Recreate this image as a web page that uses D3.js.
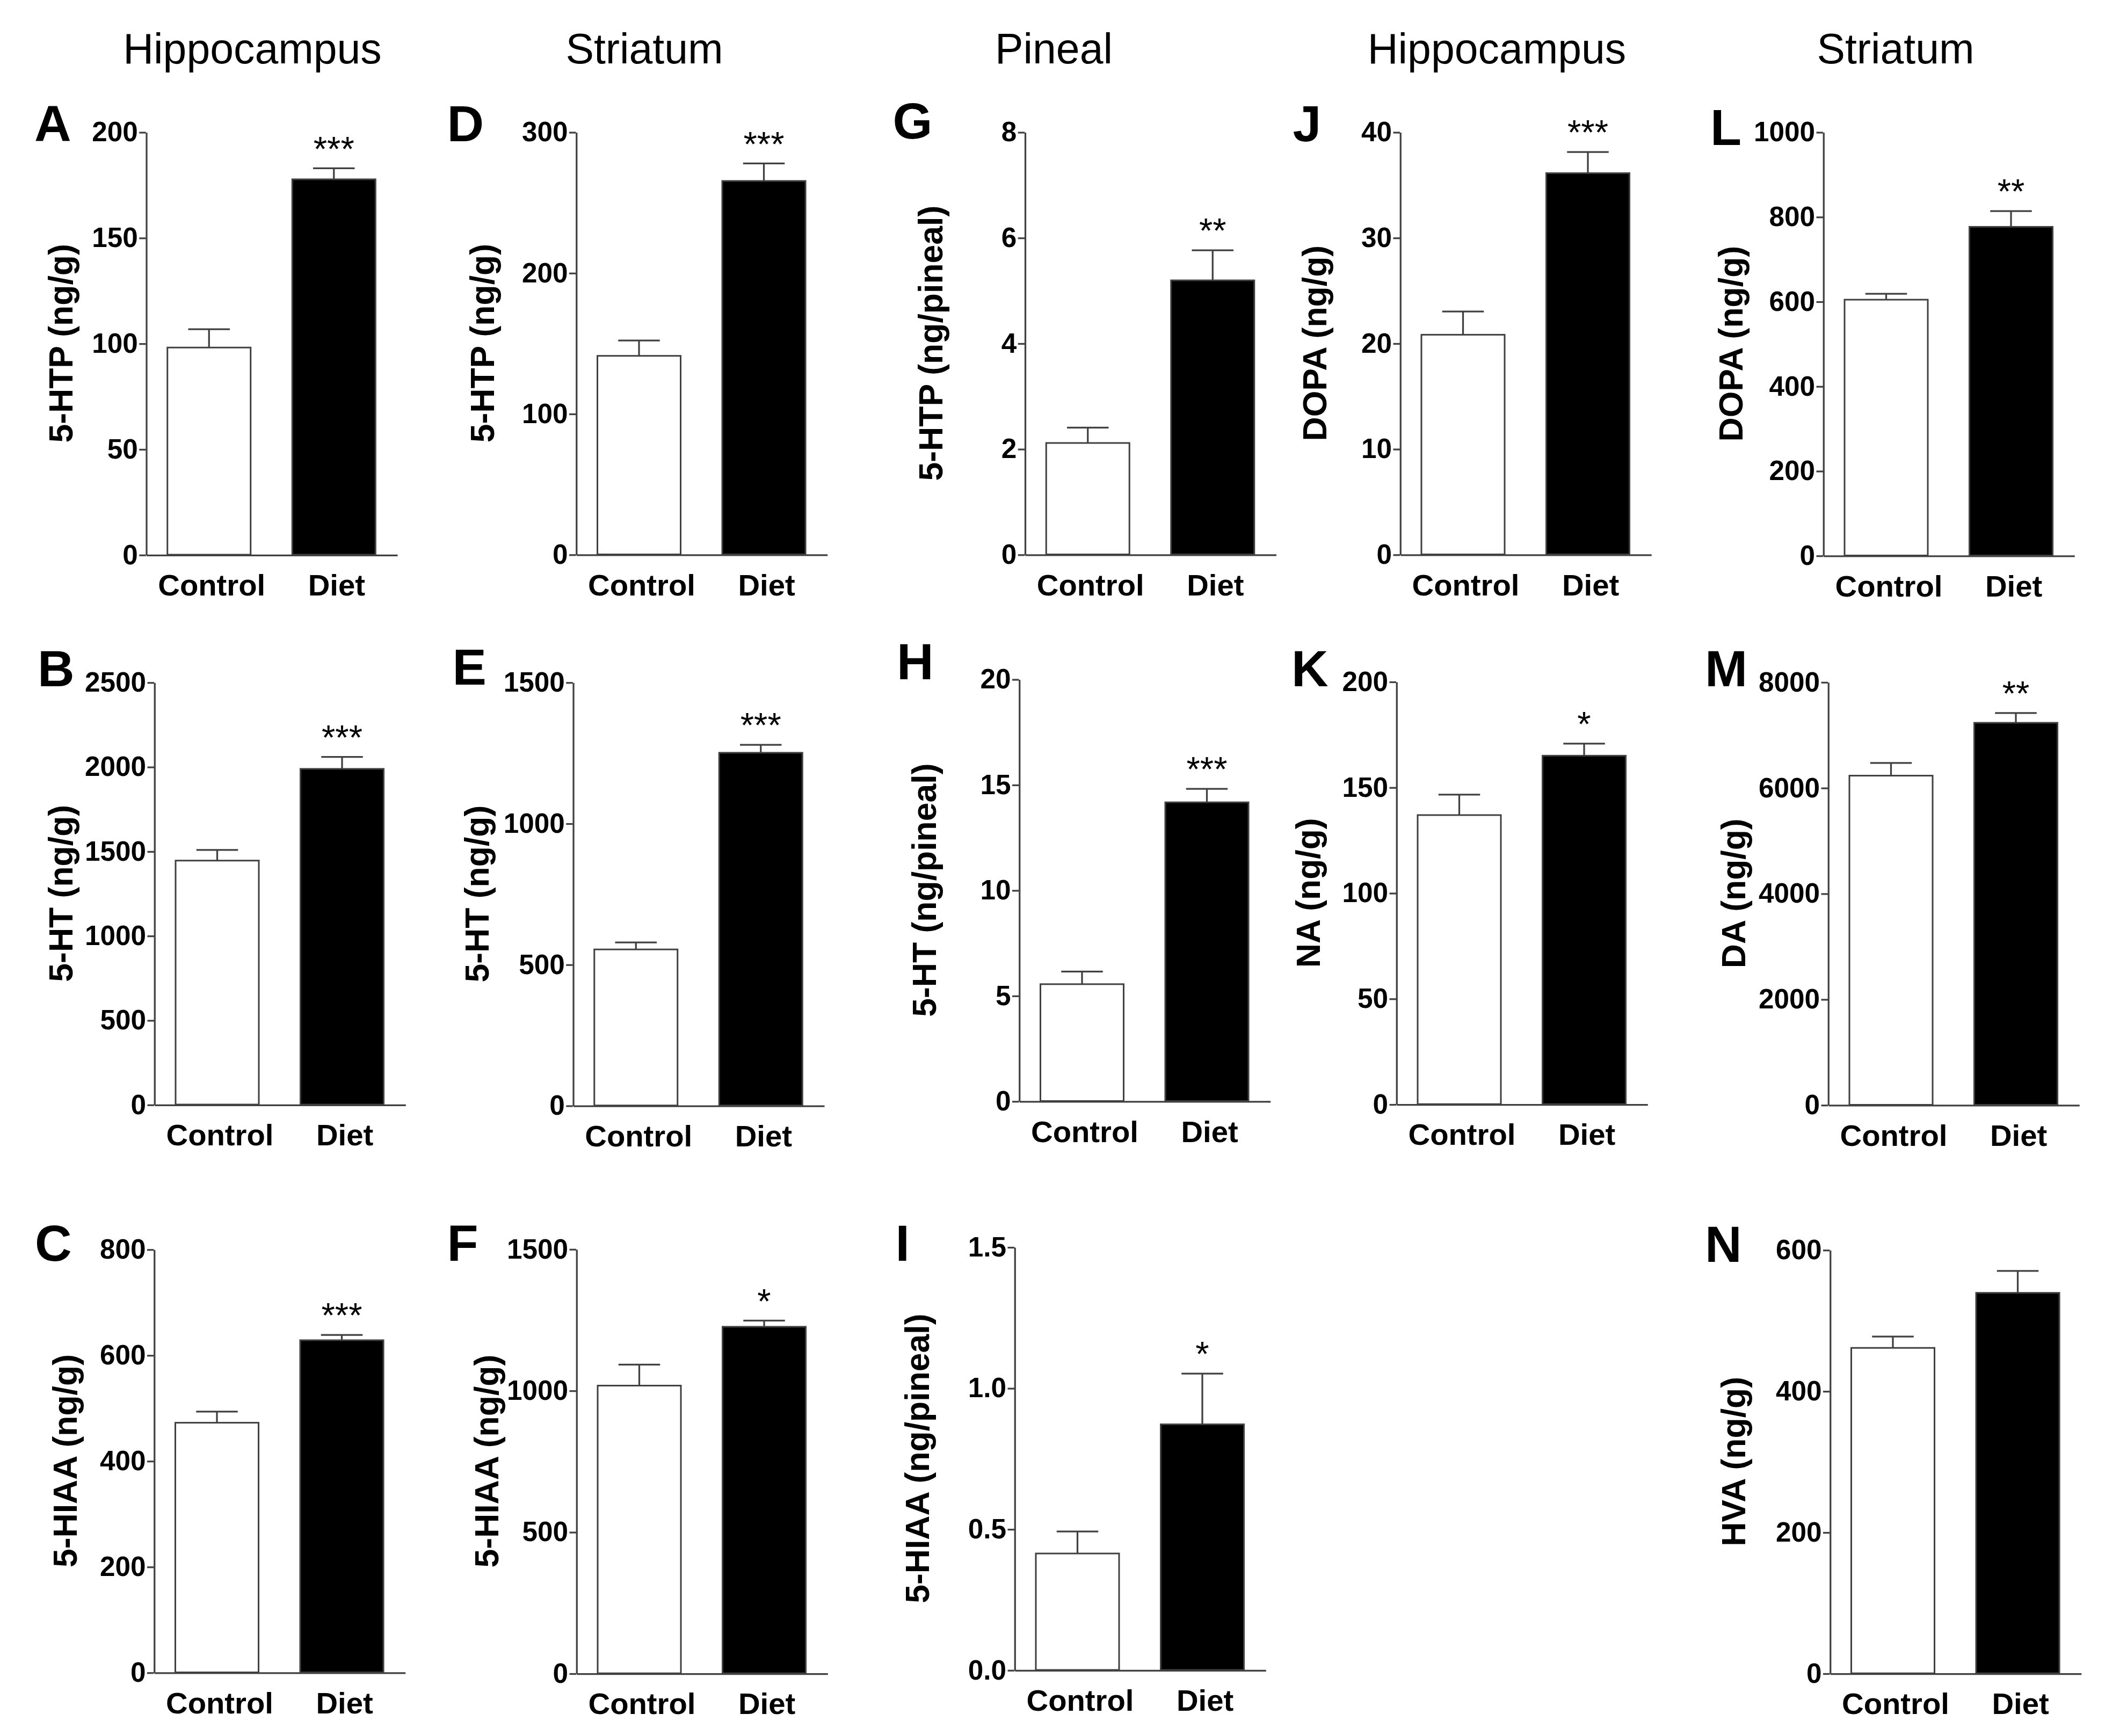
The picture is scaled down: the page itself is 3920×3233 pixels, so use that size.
<!DOCTYPE html>
<html>
<head>
<meta charset="utf-8">
<script src="https://cdn.jsdelivr.net/npm/d3@7"></script>
<style>
  html, body { margin: 0; padding: 0; background: #fff; }
  svg { display: block; }
  text { font-family: "Liberation Sans", Arial, Helvetica, sans-serif; }
</style>
</head>
<body>
<div id="figure"></div>
<script>
// ---- data ----
const groups = ["Control", "Diet"];
const columnTitles = ["Hippocampus", "Striatum", "Pineal", "Hippocampus", "Striatum"];
const panelLetters = ["A", "D", "G", "J", "L", "B", "E", "H", "K", "M", "C", "F", "I", "N"];
const yLabels = [
  "5-HTP (ng/g)", "5-HTP (ng/g)", "5-HTP (ng/pineal)", "DOPA (ng/g)", "DOPA (ng/g)",
  "5-HT (ng/g)", "5-HT (ng/g)", "5-HT (ng/pineal)", "NA (ng/g)", "DA (ng/g)",
  "5-HIAA (ng/g)", "5-HIAA (ng/g)", "5-HIAA (ng/pineal)", "HVA (ng/g)"
];
const yTicks = [
  [0, 50, 100, 150, 200], [0, 100, 200, 300], [0, 2, 4, 6, 8], [0, 10, 20, 30, 40], [0, 200, 400, 600, 800, 1000],
  [0, 500, 1000, 1500, 2000, 2500], [0, 500, 1000, 1500], [0, 5, 10, 15, 20], [0, 50, 100, 150, 200], [0, 2000, 4000, 6000, 8000],
  [0, 200, 400, 600, 800], [0, 500, 1000, 1500], [0, 0.5, 1.0, 1.5], [0, 200, 400, 600]
];
const controlMeans = [98, 141, 2.11, 20.8, 604, 1444, 553, 5.54, 136.8, 6227, 472, 1017, 0.413, 461];
const controlSems  = [8.7, 10.9, 0.29, 2.2, 14, 63, 25, 0.6, 9.7, 240, 21, 74, 0.078, 16];
const dietMeans    = [177.6, 265.2, 5.19, 36.1, 776, 1987, 1250, 14.16, 164.9, 7227, 628, 1225, 0.871, 539];
const dietSems     = [5.2, 12.4, 0.57, 2.0, 37, 71, 28, 0.64, 5.7, 186, 10, 22, 0.18, 31];
const significance = ["***", "***", "**", "***", "**", "***", "***", "***", "*", "**", "***", "*", "*", ""];

// ---- layout (drawing units, the page is scaled 2.5x) ----
const W = 1568, H = 1293.2;
const plotW = 187;
const titleX = [188, 480, 785, 1115, 1412];
const layout = {
  A: { x: 108.7, top: 98.3,  zero: 413.2, lx: 25.6, ly: 105, yl: 45 },
  D: { x: 429.0, top: 98.3,  zero: 413.0, lx: 333,  ly: 105, yl: 359 },
  G: { x: 763.3, top: 98.3,  zero: 413.0, lx: 665,  ly: 103, yl: 693 },
  J: { x: 1042.8, top: 98.3, zero: 413.0, lx: 963,  ly: 105, yl: 979 },
  L: { x: 1358.0, top: 98.3, zero: 413.8, lx: 1274, ly: 108, yl: 1289 },
  B: { x: 114.8, top: 508.2, zero: 822.8, lx: 28,   ly: 511, yl: 45 },
  E: { x: 426.7, top: 508.2, zero: 823.5, lx: 337,  ly: 510, yl: 355 },
  H: { x: 759.0, top: 505.9, zero: 820.2, lx: 668,  ly: 506, yl: 688 },
  K: { x: 1040.0, top: 507.7, zero: 822.5, lx: 962, ly: 511, yl: 974 },
  M: { x: 1361.6, top: 508.0, zero: 823.0, lx: 1270, ly: 511, yl: 1291 },
  C: { x: 114.6, top: 930.6, zero: 1245.8, lx: 26,  ly: 939, yl: 48 },
  F: { x: 429.2, top: 930.4, zero: 1246.5, lx: 333, ly: 939, yl: 362 },
  I: { x: 755.6, top: 928.9, zero: 1244.0, lx: 667, ly: 939, yl: 683 },
  N: { x: 1363.0, top: 931.0, zero: 1246.5, lx: 1270, ly: 940, yl: 1291 }
};
const axisColor = "#404040";

const svg = d3.select("#figure")
  .append("svg")
    .attr("width", 3920)
    .attr("height", 3233)
    .attr("viewBox", `0 0 ${W} ${H}`);

svg.append("rect").attr("width", W).attr("height", H).attr("fill", "#fff");

// column titles
svg.selectAll("text.coltitle")
  .data(columnTitles)
  .join("text")
    .attr("class", "coltitle")
    .attr("x", (d, i) => titleX[i])
    .attr("y", 47)
    .attr("text-anchor", "middle")
    .style("font-size", "31.5px")
    .text(d => d);

panelLetters.forEach((id, i) => {
  const p = layout[id];
  const h = p.zero - p.top;
  const ticks = yTicks[i];

  // panel letter
  svg.append("text")
    .attr("x", p.lx)
    .attr("y", p.ly)
    .style("font-size", "38px")
    .style("font-weight", "bold")
    .text(id);

  // y label
  svg.append("text")
    .attr("transform", `translate(${p.yl + 9},${(p.top + p.zero) / 2})rotate(-90)`)
    .attr("text-anchor", "middle")
    .style("font-size", "25px")
    .style("font-weight", "bold")
    .text(yLabels[i]);

  const g = svg.append("g")
    .attr("transform", `translate(${p.x},${p.top})`);

  const x = d3.scaleBand()
    .domain(groups)
    .range([0, plotW])
    .paddingInner(1 / 3)
    .paddingOuter(0.172);

  const y = d3.scaleLinear()
    .domain([0, d3.max(ticks)])
    .range([h, 0]);

  const fmt = ticks.some(t => t % 1 !== 0) ? d3.format(".1f") : d3.format("d");

  const rows = [
    { group: "Control", mean: controlMeans[i], sem: controlSems[i], fill: "#fff" },
    { group: "Diet", mean: dietMeans[i], sem: dietSems[i], fill: "#000" }
  ];

  // bars
  g.selectAll("rect.bar")
    .data(rows)
    .join("rect")
      .attr("class", "bar")
      .attr("x", d => x(d.group))
      .attr("y", d => y(d.mean))
      .attr("width", x.bandwidth())
      .attr("height", d => h - y(d.mean))
      .attr("fill", d => d.fill)
      .attr("stroke", axisColor)
      .attr("stroke-width", 1.2);

  // error bars (upper only)
  const cx = d => x(d.group) + x.bandwidth() / 2;
  g.selectAll("line.err")
    .data(rows)
    .join("line")
      .attr("class", "err")
      .attr("x1", cx).attr("x2", cx)
      .attr("y1", d => y(d.mean)).attr("y2", d => y(d.mean + d.sem))
      .attr("stroke", axisColor)
      .attr("stroke-width", 1.3);
  g.selectAll("line.cap")
    .data(rows)
    .join("line")
      .attr("class", "cap")
      .attr("x1", d => cx(d) - x.bandwidth() / 4)
      .attr("x2", d => cx(d) + x.bandwidth() / 4)
      .attr("y1", d => y(d.mean + d.sem)).attr("y2", d => y(d.mean + d.sem))
      .attr("stroke", axisColor)
      .attr("stroke-width", 1.3);

  // significance stars over Diet
  if (significance[i]) {
    const diet = rows[1];
    g.append("text")
      .attr("x", cx(diet))
      .attr("y", y(diet.mean + diet.sem) - 20 + 14.5)
      .attr("text-anchor", "middle")
      .style("font-size", "26px")
      .text(significance[i]);
  }

  // y axis
  const yAxis = g.append("g")
    .call(d3.axisLeft(y).tickValues(ticks).tickFormat(fmt).tickSize(5).tickPadding(1).tickSizeOuter(0));
  yAxis.select(".domain").attr("stroke", axisColor).attr("stroke-width", 1.3);
  yAxis.selectAll(".tick line").attr("stroke", axisColor).attr("stroke-width", 1.3);
  yAxis.selectAll(".tick text")
    .attr("fill", "#000")
    .style("font-family", "'Liberation Sans', Arial, sans-serif")
    .style("font-size", "20.5px")
    .style("font-weight", "bold");

  // x axis with group labels
  const xAxis = g.append("g")
    .attr("transform", `translate(0,${h})`)
    .call(d3.axisBottom(x).tickSize(0).tickPadding(14.5).tickSizeOuter(0));
  xAxis.select(".domain").attr("stroke", axisColor).attr("stroke-width", 1.3);
  xAxis.selectAll(".tick text")
    .attr("dx", 2)
    .attr("fill", "#000")
    .style("font-family", "'Liberation Sans', Arial, sans-serif")
    .style("font-size", "22.5px")
    .style("font-weight", "bold");
});
</script>
</body>
</html>
